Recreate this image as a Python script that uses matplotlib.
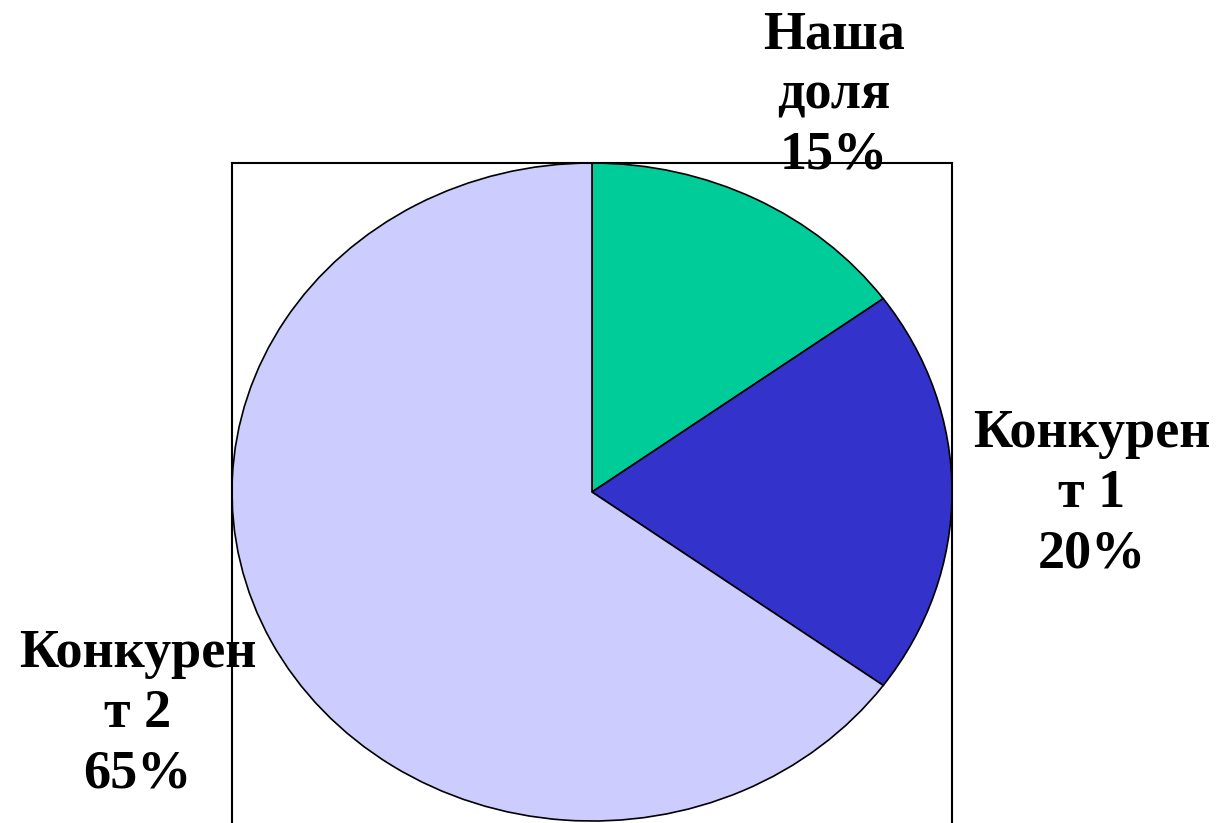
import matplotlib
matplotlib.use('Agg')
import matplotlib.pyplot as plt

# доли рынка
labels = ['Наша\nдоля\n15%', 'Конкурен\nт 1\n20%', 'Конкурен\nт 2\n65%']
shares = [15, 20, 65]
colors = ['#00CC99', '#3333CC', '#CCCCFF']

# позиции подписей (доли фигуры)
label_pos = [(0.679, 0.884), (0.889, 0.400), (0.112, 0.132)]

fig = plt.figure(figsize=(12.28, 8.23), dpi=100)
ax = fig.add_axes([232 / 1228, 0, 720 / 1228, 660 / 823])

ax.pie(shares, colors=colors, startangle=90, counterclock=False, frame=True,
       wedgeprops={'edgecolor': 'black', 'linewidth': 1.2})
ax.set_aspect('auto')
ax.set_xlim(-1.0, 1.0)
ax.set_ylim(-1.006, 1.0)
ax.set_xticks([])
ax.set_yticks([])
for side in ['left', 'right', 'top']:
    ax.spines[side].set_linewidth(1.5)
    ax.spines[side].set_color('black')
ax.spines['bottom'].set_visible(False)

for lab, (x, y) in zip(labels, label_pos):
    fig.text(x, y, lab, ha='center', va='center', multialignment='center',
             family='Liberation Serif', fontweight='bold', fontsize=39,
             linespacing=1.27)

fig.savefig('out.png', dpi=100)
